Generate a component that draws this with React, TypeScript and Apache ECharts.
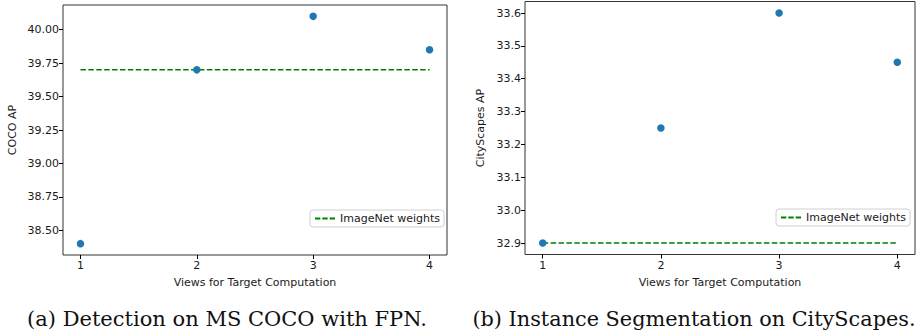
import React, { useEffect, useRef } from "react";
import * as echarts from "echarts";

const views = [1, 2, 3, 4];
const cocoAP = [38.4, 39.7, 40.1, 39.85];
const cocoBaseline = 39.7;
const cityAP = [32.9, 33.25, 33.6, 33.45];
const cityBaseline = 32.9;
const cocoTicks = [38.5, 38.75, 39.0, 39.25, 39.5, 39.75, 40.0];
const cityTicks = [32.9, 33.0, 33.1, 33.2, 33.3, 33.4, 33.5, 33.6];
const legendName = "ImageNet weights";
const xTitle = "Views for Target Computation";
const captionA = "(a) Detection on MS COCO with FPN.";
const captionB = "(b) Instance Segmentation on CityScapes.";

const FONT = "DejaVu Sans";
const TXT = "#1a1a1a";
const DASH_ICON = "path://M0,4h5.5v2h-5.5z M7.5,4h5.5v2h-5.5z M15,4h5.5v2h-5.5z";

function makeX(gridIndex: number) {
  return {
    type: "value",
    gridIndex,
    min: 0.85,
    max: 4.15,
    name: xTitle,
    nameLocation: "middle",
    nameGap: 22,
    nameTextStyle: { fontFamily: FONT, fontSize: 11, color: TXT },
    axisLine: { show: false },
    splitLine: { show: false },
    axisTick: {
      show: true,
      length: 4,
      lineStyle: { color: "#000", width: 1 },
      customValues: views,
    },
    axisLabel: {
      fontFamily: FONT,
      fontSize: 11,
      color: TXT,
      margin: 5,
      customValues: views,
      formatter: (v: number) => String(Math.round(v)),
    },
  };
}

function makeY(gridIndex: number, min: number, max: number, ticks: number[], dec: number, name: string, gap: number) {
  return {
    type: "value",
    gridIndex,
    min,
    max,
    name,
    nameLocation: "middle",
    nameGap: gap,
    nameRotate: 90,
    nameTextStyle: { fontFamily: FONT, fontSize: 11, color: TXT },
    axisLine: { show: false },
    splitLine: { show: false },
    axisTick: {
      show: true,
      length: 4,
      lineStyle: { color: "#000", width: 1 },
      customValues: ticks,
    },
    axisLabel: {
      fontFamily: FONT,
      fontSize: 11,
      color: TXT,
      margin: 4,
      customValues: ticks,
      formatter: (v: number) => v.toFixed(dec),
    },
  };
}

function legendAt(left: number, top: number) {
  return {
    data: [{ name: legendName, icon: DASH_ICON }],
    left,
    top,
    orient: "vertical",
    itemWidth: 20,
    itemHeight: 9,
    itemGap: 4,
    padding: [3, 4, 3, 5],
    borderColor: "#d0d0d0",
    borderWidth: 1,
    borderRadius: 3,
    backgroundColor: "#fff",
    selectedMode: false,
    itemStyle: { color: "#008000" },
    textStyle: { fontFamily: FONT, fontSize: 11, color: TXT },
  };
}

export default function App() {
  const ref = useRef<HTMLDivElement>(null);
  useEffect(() => {
    if (!ref.current) return;
    const chart = echarts.init(ref.current, undefined, { renderer: "svg" });
    const dashed = {
      color: "#008000",
      width: 1.5,
      type: [5.5, 2.4],
    };
    chart.setOption({
      animation: false,
      backgroundColor: "#fff",
      grid: [
        { left: 63, top: 5, width: 384, height: 250, show: true, borderColor: "#333", borderWidth: 1, backgroundColor: "transparent" },
        { left: 525, top: 1.5, width: 390, height: 253, show: true, borderColor: "#333", borderWidth: 1, backgroundColor: "transparent" },
      ],
      xAxis: [makeX(0), makeX(1)],
      yAxis: [
        makeY(0, 38.315, 40.185, cocoTicks, 2, "COCO AP", 45),
        makeY(1, 32.865, 33.635, cityTicks, 1, "CityScapes AP", 39),
      ],
      legend: [legendAt(310, 210), legendAt(776, 209)],
      series: [
        {
          type: "line",
          name: legendName,
          xAxisIndex: 0,
          yAxisIndex: 0,
          data: [
            [views[0], cocoBaseline],
            [views[views.length - 1], cocoBaseline],
          ],
          symbol: "none",
          lineStyle: dashed,
          itemStyle: { color: "#008000" },
          z: 2,
        },
        {
          type: "scatter",
          name: "COCO",
          xAxisIndex: 0,
          yAxisIndex: 0,
          data: views.map((v, i) => [v, cocoAP[i]]),
          symbolSize: 7.5,
          itemStyle: { color: "#1f77b4", opacity: 1 },
          z: 3,
        },
        {
          type: "line",
          name: legendName,
          xAxisIndex: 1,
          yAxisIndex: 1,
          data: [
            [views[0], cityBaseline],
            [views[views.length - 1], cityBaseline],
          ],
          symbol: "none",
          lineStyle: dashed,
          itemStyle: { color: "#008000" },
          z: 2,
        },
        {
          type: "scatter",
          name: "City",
          xAxisIndex: 1,
          yAxisIndex: 1,
          data: views.map((v, i) => [v, cityAP[i]]),
          symbolSize: 7.5,
          itemStyle: { color: "#1f77b4", opacity: 1 },
          z: 3,
        },
      ],
      graphic: [
        {
          type: "text",
          x: 227,
          y: 319,
          style: {
            text: captionA,
            font: "21px 'DejaVu Serif'",
            fill: "#111",
            textAlign: "center",
            textVerticalAlign: "middle",
          },
        },
        {
          type: "text",
          x: 694,
          y: 319,
          style: {
            text: captionB,
            font: "20.8px 'DejaVu Serif'",
            fill: "#111",
            textAlign: "center",
            textVerticalAlign: "middle",
          },
        },
      ],
    });
    return () => chart.dispose();
  }, []);
  return (
    <div
      ref={ref}
      style={{ position: "fixed", left: 0, top: 0, width: 916, height: 335 }}
    />
  );
}
